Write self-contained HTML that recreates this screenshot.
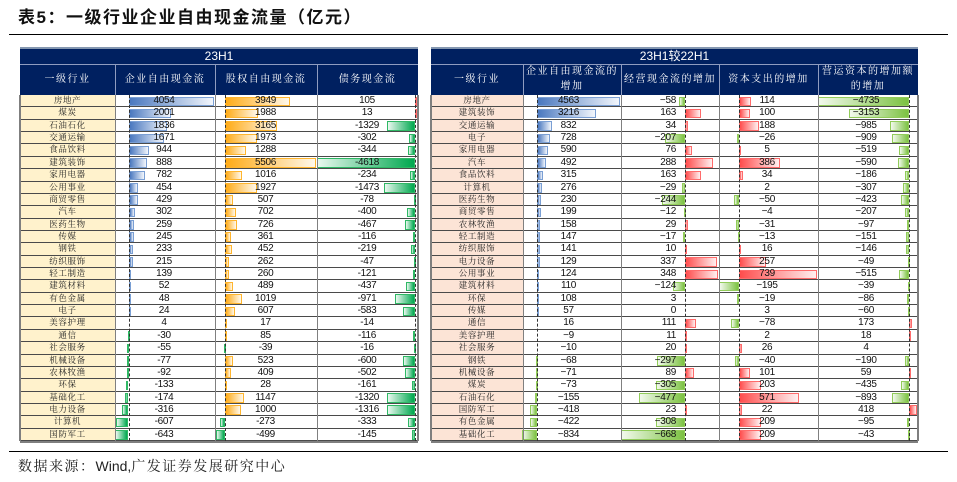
<!DOCTYPE html>
<html><head><meta charset="utf-8">
<style>
*{margin:0;padding:0;box-sizing:border-box}
body{width:957px;height:482px;overflow:hidden;background:#fff;position:relative;font-family:"Liberation Sans","Noto Sans CJK SC",sans-serif;color:#000}
.title{position:absolute;left:18px;top:6px;font-size:17px;font-weight:bold;letter-spacing:1.5px;line-height:24px;color:#111;white-space:nowrap;font-family:"Liberation Sans","Noto Sans CJK SC",sans-serif}
.line{position:absolute;left:9px;width:939px;height:1.5px;background:#000}
.foot{position:absolute;left:18px;top:457px;font-size:14px;line-height:18px;letter-spacing:1.5px;white-space:nowrap;color:#222;font-family:"Liberation Sans","Noto Serif CJK SC",serif}
.hd{position:absolute;top:47px;height:48px;background:#002060;border-top:2px solid #8497b0}
.h1{position:absolute;left:0;right:0;top:0;height:14.5px;line-height:15px;text-align:center;color:#fff;font-size:12px;font-family:"Liberation Sans","Noto Sans CJK SC",sans-serif}
.hsep{position:absolute;left:0;right:0;top:14.5px;height:1px;background:#8f9cc0}
.hv{position:absolute;top:15.5px;bottom:0;width:1px;background:#8f9cc0}
.hc{position:absolute;top:15.5px;height:30.5px;display:flex;align-items:center;justify-content:center;text-align:center;color:#fff;font-size:10px;letter-spacing:1.5px;line-height:14.5px;white-space:nowrap;font-family:"Liberation Serif","Noto Serif CJK SC",serif}
.body{position:absolute;top:95px;height:346.08px}
.r{position:relative;height:12.36px;border-bottom:1px solid #4a4a4a}
.n{position:absolute;left:0;top:0;height:100%;text-align:center;font-size:8.5px;letter-spacing:0.6px;line-height:11.36px;white-space:nowrap;color:#222;font-family:"Liberation Serif","Noto Serif CJK SC",serif}
.L .n{width:95px;background:#fff2cc}
.R .n{width:92px;background:#fce4d6}
.v{position:absolute;top:0;line-height:11.36px;font-size:10px;letter-spacing:-0.3px;text-align:center;white-space:nowrap;color:#111}
.x1{left:95px;width:98px}.x2{left:195px;width:101px}.x3{left:297px;width:100px}
.y1{left:92px;width:91px}.y2{left:190px;width:55px;text-align:right}.y3{left:288px;width:96px}.y4{left:387px;width:96px}
.b{position:absolute;top:1.5px;height:9.5px;display:block}
.bp{background:linear-gradient(90deg,#4a78bf,#f2f6fc);border:1px solid #7a9fd4}
.gl{background:linear-gradient(270deg,#00a84f,#eaf8ef);border:1px solid #2fb865}
.op{background:linear-gradient(90deg,#ffab17,#fff8ea);border:1px solid #ffb52e}
.rp{background:linear-gradient(90deg,#ff4d4d,#fff0f0);border:1px solid #ff6b6b}
.gr{background:linear-gradient(270deg,#7cc242,#f2f9ec);border:1px solid #92cc5a}
.vl{position:absolute;top:0;bottom:0;width:1px;background:#808080}
.ax{position:absolute;top:0;bottom:0;width:0;border-left:1px dashed #333}
.ov{position:absolute;left:0;top:0;right:0;bottom:0;pointer-events:none}
.edge{position:absolute;top:0;bottom:0;width:2px;background:#7f7f7f}
.bot{position:absolute;left:0;right:0;bottom:-2px;height:2px;background:#7f7f7f}
</style></head><body>

<div class="title">表5：一级行业企业自由现金流量（亿元）</div>
<div class="line" style="top:33.5px"></div>

<!-- LEFT HEADER -->
<div class="hd" style="left:20px;width:398px">
  <div class="h1">23H1</div>
  <div class="hsep"></div>
  <div class="hv" style="left:95px"></div>
  <div class="hv" style="left:195px"></div>
  <div class="hv" style="left:297px"></div>
  <div class="hc" style="left:0;width:95px">一级行业</div>
  <div class="hc" style="left:95px;width:100px">企业自由现金流</div>
  <div class="hc" style="left:195px;width:102px">股权自由现金流</div>
  <div class="hc" style="left:297px;width:101px">债务现金流</div>
</div>

<!-- RIGHT HEADER -->
<div class="hd" style="left:431px;width:487px">
  <div class="h1">23H1较22H1</div>
  <div class="hsep"></div>
  <div class="hv" style="left:92px"></div>
  <div class="hv" style="left:190px"></div>
  <div class="hv" style="left:288px"></div>
  <div class="hv" style="left:387px"></div>
  <div class="hc" style="left:0;width:92px">一级行业</div>
  <div class="hc" style="left:92px;width:98px">企业自由现金流的<br>增加</div>
  <div class="hc" style="left:190px;width:98px">经营现金流的增加</div>
  <div class="hc" style="left:288px;width:99px">资本支出的增加</div>
  <div class="hc" style="left:387px;width:100px">营运资本的增加额<br>的增加</div>
</div>

<!-- LEFT BODY -->
<div class="body L" style="left:20px;width:398px">
<div class="r"><div class="n">房地产</div><i class="b bp" style="left:108.5px;width:85.9px"></i><i class="b op" style="left:204.7px;width:65.5px"></i><i class="b rp" style="left:395.3px;width:2.2px"></i><div class="v x1">4054</div><div class="v x2">3949</div><div class="v x3">105</div></div>
<div class="r"><div class="n">煤炭</div><i class="b bp" style="left:108.5px;width:42.4px"></i><i class="b op" style="left:204.7px;width:33px"></i><i class="b rp" style="left:395.3px;width:1px"></i><div class="v x1">2001</div><div class="v x2">1988</div><div class="v x3">13</div></div>
<div class="r"><div class="n">石油石化</div><i class="b bp" style="left:108.5px;width:38.9px"></i><i class="b op" style="left:204.7px;width:52.5px"></i><i class="b gl" style="left:367.1px;width:28.2px"></i><div class="v x1">1836</div><div class="v x2">3165</div><div class="v x3">-1329</div></div>
<div class="r"><div class="n">交通运输</div><i class="b bp" style="left:108.5px;width:35.4px"></i><i class="b op" style="left:204.7px;width:32.7px"></i><i class="b gl" style="left:388.9px;width:6.4px"></i><div class="v x1">1671</div><div class="v x2">1973</div><div class="v x3">-302</div></div>
<div class="r"><div class="n">食品饮料</div><i class="b bp" style="left:108.5px;width:20px"></i><i class="b op" style="left:204.7px;width:21.4px"></i><i class="b gl" style="left:388px;width:7.3px"></i><div class="v x1">944</div><div class="v x2">1288</div><div class="v x3">-344</div></div>
<div class="r"><div class="n">建筑装饰</div><i class="b bp" style="left:108.5px;width:18.8px"></i><i class="b op" style="left:204.7px;width:91.3px"></i><i class="b gl" style="left:297.3px;width:98px"></i><div class="v x1">888</div><div class="v x2">5506</div><div class="v x3">-4618</div></div>
<div class="r"><div class="n">家用电器</div><i class="b bp" style="left:108.5px;width:16.6px"></i><i class="b op" style="left:204.7px;width:16.9px"></i><i class="b gl" style="left:390.3px;width:5px"></i><div class="v x1">782</div><div class="v x2">1016</div><div class="v x3">-234</div></div>
<div class="r"><div class="n">公用事业</div><i class="b bp" style="left:108.5px;width:9.6px"></i><i class="b op" style="left:204.7px;width:32px"></i><i class="b gl" style="left:364px;width:31.3px"></i><div class="v x1">454</div><div class="v x2">1927</div><div class="v x3">-1473</div></div>
<div class="r"><div class="n">商贸零售</div><i class="b bp" style="left:108.5px;width:9.1px"></i><i class="b op" style="left:204.7px;width:8.4px"></i><i class="b gl" style="left:393.6px;width:1.7px"></i><div class="v x1">429</div><div class="v x2">507</div><div class="v x3">-78</div></div>
<div class="r"><div class="n">汽车</div><i class="b bp" style="left:108.5px;width:6.4px"></i><i class="b op" style="left:204.7px;width:11.6px"></i><i class="b gl" style="left:386.8px;width:8.5px"></i><div class="v x1">302</div><div class="v x2">702</div><div class="v x3">-400</div></div>
<div class="r"><div class="n">医药生物</div><i class="b bp" style="left:108.5px;width:5.5px"></i><i class="b op" style="left:204.7px;width:12px"></i><i class="b gl" style="left:385.4px;width:9.9px"></i><div class="v x1">259</div><div class="v x2">726</div><div class="v x3">-467</div></div>
<div class="r"><div class="n">传媒</div><i class="b bp" style="left:108.5px;width:5.2px"></i><i class="b op" style="left:204.7px;width:6px"></i><i class="b gl" style="left:392.8px;width:2.5px"></i><div class="v x1">245</div><div class="v x2">361</div><div class="v x3">-116</div></div>
<div class="r"><div class="n">钢铁</div><i class="b bp" style="left:108.5px;width:4.9px"></i><i class="b op" style="left:204.7px;width:7.5px"></i><i class="b gl" style="left:390.7px;width:4.6px"></i><div class="v x1">233</div><div class="v x2">452</div><div class="v x3">-219</div></div>
<div class="r"><div class="n">纺织服饰</div><i class="b bp" style="left:108.5px;width:4.6px"></i><i class="b op" style="left:204.7px;width:4.3px"></i><i class="b gl" style="left:394.3px;width:1px"></i><div class="v x1">215</div><div class="v x2">262</div><div class="v x3">-47</div></div>
<div class="r"><div class="n">轻工制造</div><i class="b bp" style="left:108.5px;width:2.9px"></i><i class="b op" style="left:204.7px;width:4.3px"></i><i class="b gl" style="left:392.7px;width:2.6px"></i><div class="v x1">139</div><div class="v x2">260</div><div class="v x3">-121</div></div>
<div class="r"><div class="n">建筑材料</div><i class="b bp" style="left:108.5px;width:1.1px"></i><i class="b op" style="left:204.7px;width:8.1px"></i><i class="b gl" style="left:386px;width:9.3px"></i><div class="v x1">52</div><div class="v x2">489</div><div class="v x3">-437</div></div>
<div class="r"><div class="n">有色金属</div><i class="b bp" style="left:108.5px;width:1px"></i><i class="b op" style="left:204.7px;width:16.9px"></i><i class="b gl" style="left:374.7px;width:20.6px"></i><div class="v x1">48</div><div class="v x2">1019</div><div class="v x3">-971</div></div>
<div class="r"><div class="n">电子</div><i class="b bp" style="left:108.5px;width:1px"></i><i class="b op" style="left:204.7px;width:10.1px"></i><i class="b gl" style="left:382.9px;width:12.4px"></i><div class="v x1">24</div><div class="v x2">607</div><div class="v x3">-583</div></div>
<div class="r"><div class="n">美容护理</div><i class="b op" style="left:204.7px;width:1px"></i><div class="v x1">4</div><div class="v x2">17</div><div class="v x3">-14</div></div>
<div class="r"><div class="n">通信</div><i class="b gl" style="left:107.5px;width:1px"></i><i class="b op" style="left:204.7px;width:1.4px"></i><i class="b gl" style="left:392.8px;width:2.5px"></i><div class="v x1">-30</div><div class="v x2">85</div><div class="v x3">-116</div></div>
<div class="r"><div class="n">社会服务</div><i class="b gl" style="left:107.3px;width:1.2px"></i><i class="b gl" style="left:203.7px;width:1px"></i><i class="b gl" style="left:394.3px;width:1px"></i><div class="v x1">-55</div><div class="v x2">-39</div><div class="v x3">-16</div></div>
<div class="r"><div class="n">机械设备</div><i class="b gl" style="left:106.9px;width:1.6px"></i><i class="b op" style="left:204.7px;width:8.7px"></i><i class="b gl" style="left:382.6px;width:12.7px"></i><div class="v x1">-77</div><div class="v x2">523</div><div class="v x3">-600</div></div>
<div class="r"><div class="n">农林牧渔</div><i class="b gl" style="left:106.5px;width:2px"></i><i class="b op" style="left:204.7px;width:6.8px"></i><i class="b gl" style="left:384.6px;width:10.7px"></i><div class="v x1">-92</div><div class="v x2">409</div><div class="v x3">-502</div></div>
<div class="r"><div class="n">环保</div><i class="b gl" style="left:105.7px;width:2.8px"></i><i class="b op" style="left:204.7px;width:1px"></i><i class="b gl" style="left:391.9px;width:3.4px"></i><div class="v x1">-133</div><div class="v x2">28</div><div class="v x3">-161</div></div>
<div class="r"><div class="n">基础化工</div><i class="b gl" style="left:104.8px;width:3.7px"></i><i class="b op" style="left:204.7px;width:19px"></i><i class="b gl" style="left:367.3px;width:28px"></i><div class="v x1">-174</div><div class="v x2">1147</div><div class="v x3">-1320</div></div>
<div class="r"><div class="n">电力设备</div><i class="b gl" style="left:101.8px;width:6.7px"></i><i class="b op" style="left:204.7px;width:16.6px"></i><i class="b gl" style="left:367.4px;width:27.9px"></i><div class="v x1">-316</div><div class="v x2">1000</div><div class="v x3">-1316</div></div>
<div class="r"><div class="n">计算机</div><i class="b gl" style="left:95.6px;width:12.9px"></i><i class="b gl" style="left:200.2px;width:4.5px"></i><i class="b gl" style="left:388.2px;width:7.1px"></i><div class="v x1">-607</div><div class="v x2">-273</div><div class="v x3">-333</div></div>
<div class="r"><div class="n">国防军工</div><i class="b gl" style="left:94.9px;width:13.6px"></i><i class="b gl" style="left:196.4px;width:8.3px"></i><i class="b gl" style="left:392.2px;width:3.1px"></i><div class="v x1">-643</div><div class="v x2">-499</div><div class="v x3">-145</div></div>
<div class="ov">
  <div class="vl" style="left:95px"></div><div class="vl" style="left:195px"></div><div class="vl" style="left:297px"></div>
  <div class="ax" style="left:108.5px"></div><div class="ax" style="left:204.5px"></div><div class="ax" style="left:395px"></div>
  <div class="edge" style="left:-1px"></div><div class="edge" style="right:-1px"></div><div class="bot"></div>
</div>
</div>

<!-- RIGHT BODY -->
<div class="body R" style="left:431px;width:487px">
<div class="r"><div class="n">房地产</div><i class="b bp" style="left:106.3px;width:82.7px"></i><i class="b gr" style="left:248.4px;width:5.6px"></i><i class="b rp" style="left:308.3px;width:12px"></i><i class="b gr" style="left:387.1px;width:90.9px"></i><div class="v y1">4563</div><div class="v y2">−58</div><div class="v y3">114</div><div class="v y4">−4735</div></div>
<div class="r"><div class="n">建筑装饰</div><i class="b bp" style="left:106.3px;width:58.3px"></i><i class="b rp" style="left:254px;width:15.6px"></i><i class="b rp" style="left:308.3px;width:10.6px"></i><i class="b gr" style="left:417.5px;width:60.5px"></i><div class="v y1">3216</div><div class="v y2">163</div><div class="v y3">100</div><div class="v y4">−3153</div></div>
<div class="r"><div class="n">交通运输</div><i class="b bp" style="left:106.3px;width:15.1px"></i><i class="b rp" style="left:254px;width:3.3px"></i><i class="b rp" style="left:308.3px;width:19.8px"></i><i class="b gr" style="left:459.1px;width:18.9px"></i><div class="v y1">832</div><div class="v y2">34</div><div class="v y3">188</div><div class="v y4">−985</div></div>
<div class="r"><div class="n">电子</div><i class="b bp" style="left:106.3px;width:13.2px"></i><i class="b gr" style="left:234.2px;width:19.8px"></i><i class="b gr" style="left:305.6px;width:2.7px"></i><i class="b gr" style="left:460.5px;width:17.5px"></i><div class="v y1">728</div><div class="v y2">−207</div><div class="v y3">−26</div><div class="v y4">−909</div></div>
<div class="r"><div class="n">家用电器</div><i class="b bp" style="left:106.3px;width:10.7px"></i><i class="b rp" style="left:254px;width:7.3px"></i><i class="b rp" style="left:308.3px;width:1px"></i><i class="b gr" style="left:468px;width:10px"></i><div class="v y1">590</div><div class="v y2">76</div><div class="v y3">5</div><div class="v y4">−519</div></div>
<div class="r"><div class="n">汽车</div><i class="b bp" style="left:106.3px;width:8.9px"></i><i class="b rp" style="left:254px;width:27.6px"></i><i class="b rp" style="left:308.3px;width:40.7px"></i><i class="b gr" style="left:466.7px;width:11.3px"></i><div class="v y1">492</div><div class="v y2">288</div><div class="v y3">386</div><div class="v y4">−590</div></div>
<div class="r"><div class="n">食品饮料</div><i class="b bp" style="left:106.3px;width:5.7px"></i><i class="b rp" style="left:254px;width:15.6px"></i><i class="b rp" style="left:308.3px;width:3.6px"></i><i class="b gr" style="left:474.4px;width:3.6px"></i><div class="v y1">315</div><div class="v y2">163</div><div class="v y3">34</div><div class="v y4">−186</div></div>
<div class="r"><div class="n">计算机</div><i class="b bp" style="left:106.3px;width:5px"></i><i class="b gr" style="left:251.2px;width:2.8px"></i><i class="b gr" style="left:472.1px;width:5.9px"></i><div class="v y1">276</div><div class="v y2">−29</div><div class="v y3">2</div><div class="v y4">−307</div></div>
<div class="r"><div class="n">医药生物</div><i class="b bp" style="left:106.3px;width:4.2px"></i><i class="b gr" style="left:230.6px;width:23.4px"></i><i class="b gr" style="left:303px;width:5.3px"></i><i class="b gr" style="left:469.9px;width:8.1px"></i><div class="v y1">230</div><div class="v y2">−244</div><div class="v y3">−50</div><div class="v y4">−423</div></div>
<div class="r"><div class="n">商贸零售</div><i class="b bp" style="left:106.3px;width:3.6px"></i><i class="b gr" style="left:252.9px;width:1.1px"></i><i class="b gr" style="left:474px;width:4px"></i><div class="v y1">199</div><div class="v y2">−12</div><div class="v y3">−4</div><div class="v y4">−207</div></div>
<div class="r"><div class="n">农林牧渔</div><i class="b bp" style="left:106.3px;width:2.9px"></i><i class="b rp" style="left:254px;width:2.8px"></i><i class="b gr" style="left:305px;width:3.3px"></i><i class="b gr" style="left:476.1px;width:1.9px"></i><div class="v y1">158</div><div class="v y2">29</div><div class="v y3">−31</div><div class="v y4">−97</div></div>
<div class="r"><div class="n">轻工制造</div><i class="b bp" style="left:106.3px;width:2.7px"></i><i class="b gr" style="left:252.4px;width:1.6px"></i><i class="b gr" style="left:306.9px;width:1.4px"></i><i class="b gr" style="left:475.1px;width:2.9px"></i><div class="v y1">147</div><div class="v y2">−17</div><div class="v y3">−13</div><div class="v y4">−151</div></div>
<div class="r"><div class="n">纺织服饰</div><i class="b bp" style="left:106.3px;width:2.6px"></i><i class="b rp" style="left:254px;width:1px"></i><i class="b rp" style="left:308.3px;width:1.7px"></i><i class="b gr" style="left:475.2px;width:2.8px"></i><div class="v y1">141</div><div class="v y2">10</div><div class="v y3">16</div><div class="v y4">−146</div></div>
<div class="r"><div class="n">电力设备</div><i class="b bp" style="left:106.3px;width:2.3px"></i><i class="b rp" style="left:254px;width:32.3px"></i><i class="b rp" style="left:308.3px;width:27.1px"></i><i class="b gr" style="left:477px;width:1px"></i><div class="v y1">129</div><div class="v y2">337</div><div class="v y3">257</div><div class="v y4">−49</div></div>
<div class="r"><div class="n">公用事业</div><i class="b bp" style="left:106.3px;width:2.2px"></i><i class="b rp" style="left:254px;width:33.3px"></i><i class="b rp" style="left:308.3px;width:78px"></i><i class="b gr" style="left:468.1px;width:9.9px"></i><div class="v y1">124</div><div class="v y2">348</div><div class="v y3">739</div><div class="v y4">−515</div></div>
<div class="r"><div class="n">建筑材料</div><i class="b bp" style="left:106.3px;width:2px"></i><i class="b gr" style="left:242.1px;width:11.9px"></i><i class="b gr" style="left:287.7px;width:20.6px"></i><i class="b gr" style="left:477px;width:1px"></i><div class="v y1">110</div><div class="v y2">−124</div><div class="v y3">−195</div><div class="v y4">−39</div></div>
<div class="r"><div class="n">环保</div><i class="b bp" style="left:106.3px;width:2px"></i><i class="b gr" style="left:306.3px;width:2px"></i><i class="b gr" style="left:476.3px;width:1.7px"></i><div class="v y1">108</div><div class="v y2">3</div><div class="v y3">−19</div><div class="v y4">−86</div></div>
<div class="r"><div class="n">传媒</div><i class="b bp" style="left:106.3px;width:1px"></i><i class="b gr" style="left:476.8px;width:1.2px"></i><div class="v y1">57</div><div class="v y2">0</div><div class="v y3">3</div><div class="v y4">−60</div></div>
<div class="r"><div class="n">通信</div><i class="b rp" style="left:254px;width:10.6px"></i><i class="b gr" style="left:300.1px;width:8.2px"></i><i class="b rp" style="left:478px;width:3.3px"></i><div class="v y1">16</div><div class="v y2">111</div><div class="v y3">−78</div><div class="v y4">173</div></div>
<div class="r"><div class="n">美容护理</div><i class="b rp" style="left:254px;width:1.1px"></i><i class="b rp" style="left:478px;width:1px"></i><div class="v y1">−9</div><div class="v y2">11</div><div class="v y3">2</div><div class="v y4">18</div></div>
<div class="r"><div class="n">社会服务</div><i class="b rp" style="left:254px;width:1.9px"></i><i class="b rp" style="left:308.3px;width:2.7px"></i><div class="v y1">−10</div><div class="v y2">20</div><div class="v y3">26</div><div class="v y4">4</div></div>
<div class="r"><div class="n">钢铁</div><i class="b gr" style="left:105.1px;width:1.2px"></i><i class="b gr" style="left:225.5px;width:28.5px"></i><i class="b gr" style="left:304.1px;width:4.2px"></i><i class="b gr" style="left:474.4px;width:3.6px"></i><div class="v y1">−68</div><div class="v y2">−297</div><div class="v y3">−40</div><div class="v y4">−190</div></div>
<div class="r"><div class="n">机械设备</div><i class="b gr" style="left:105px;width:1.3px"></i><i class="b rp" style="left:254px;width:8.5px"></i><i class="b rp" style="left:308.3px;width:10.7px"></i><i class="b rp" style="left:478px;width:1.1px"></i><div class="v y1">−71</div><div class="v y2">89</div><div class="v y3">101</div><div class="v y4">59</div></div>
<div class="r"><div class="n">煤炭</div><i class="b gr" style="left:105px;width:1.3px"></i><i class="b gr" style="left:224.8px;width:29.2px"></i><i class="b rp" style="left:308.3px;width:21.4px"></i><i class="b gr" style="left:469.6px;width:8.4px"></i><div class="v y1">−73</div><div class="v y2">−305</div><div class="v y3">203</div><div class="v y4">−435</div></div>
<div class="r"><div class="n">石油石化</div><i class="b gr" style="left:103.5px;width:2.8px"></i><i class="b gr" style="left:208.3px;width:45.7px"></i><i class="b rp" style="left:308.3px;width:60.2px"></i><i class="b gr" style="left:460.9px;width:17.1px"></i><div class="v y1">−155</div><div class="v y2">−477</div><div class="v y3">571</div><div class="v y4">−893</div></div>
<div class="r"><div class="n">国防军工</div><i class="b gr" style="left:98.7px;width:7.6px"></i><i class="b rp" style="left:254px;width:2.2px"></i><i class="b rp" style="left:308.3px;width:2.3px"></i><i class="b rp" style="left:478px;width:8px"></i><div class="v y1">−418</div><div class="v y2">23</div><div class="v y3">22</div><div class="v y4">418</div></div>
<div class="r"><div class="n">有色金属</div><i class="b gr" style="left:98.7px;width:7.6px"></i><i class="b gr" style="left:224.5px;width:29.5px"></i><i class="b rp" style="left:308.3px;width:22px"></i><i class="b gr" style="left:476.2px;width:1.8px"></i><div class="v y1">−422</div><div class="v y2">−308</div><div class="v y3">209</div><div class="v y4">−95</div></div>
<div class="r"><div class="n">基础化工</div><i class="b gr" style="left:91.2px;width:15.1px"></i><i class="b gr" style="left:190px;width:64px"></i><i class="b rp" style="left:308.3px;width:22px"></i><i class="b gr" style="left:477px;width:1px"></i><div class="v y1">−834</div><div class="v y2">−668</div><div class="v y3">209</div><div class="v y4">−43</div></div>
<div class="ov">
  <div class="vl" style="left:92px"></div><div class="vl" style="left:190px"></div><div class="vl" style="left:288px"></div><div class="vl" style="left:387px"></div>
  <div class="ax" style="left:106px"></div><div class="ax" style="left:253.5px"></div><div class="ax" style="left:308px"></div><div class="ax" style="left:477.5px"></div>
  <div class="edge" style="left:-1px"></div><div class="edge" style="right:-1px"></div><div class="bot"></div>
</div>
</div>

<div class="line" style="top:450.5px"></div>
<div class="foot">数据来源：<span style="letter-spacing:0">Wind,</span>广发证券发展研究中心</div>

</body></html>
